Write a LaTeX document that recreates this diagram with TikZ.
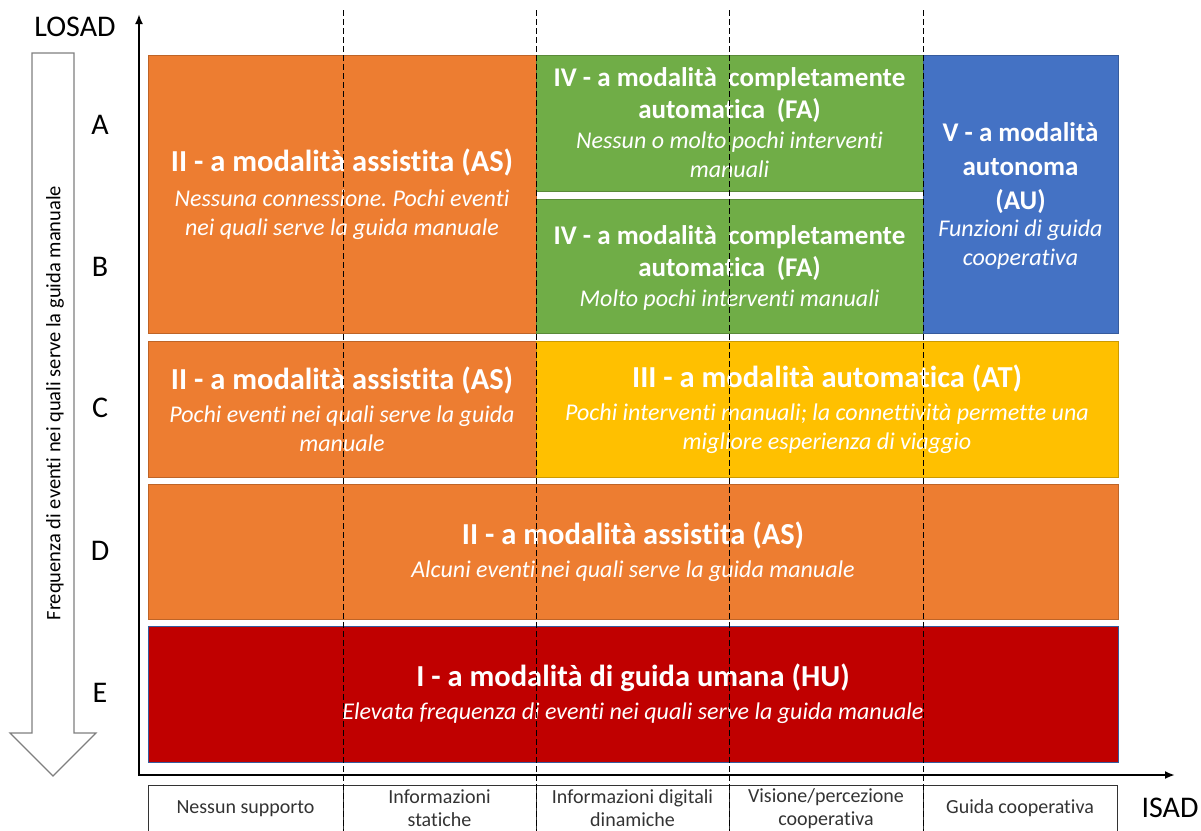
\documentclass[tikz,border=0pt]{standalone}
\usepackage{fontspec}
\setmainfont{Carlito}[Ligatures=NoCommon]
\usepackage{xcolor}
\usetikzlibrary{arrows.meta}
\usetikzlibrary{positioning}
\definecolor{arancio}{HTML}{ED7D31}
\definecolor{verde}{HTML}{70AD47}
\definecolor{blu}{HTML}{4472C4}
\definecolor{giallo}{HTML}{FFC000}
\definecolor{rosso}{HTML}{C00000}
\definecolor{grigio}{HTML}{7F7F7F}
\newcommand{\titolo}[1]{{\bfseries\fontsize{30.5}{33}\selectfont #1}}
\newcommand{\titoletto}[1]{{\bfseries\fontsize{27}{33}\selectfont #1}}
\newcommand{\nota}[1]{{\itshape #1}}
\frenchspacing

\tikzset{
  fascia/.style={fill=#1, draw=#1!80!black, line width=1pt, text=white, align=center,
    inner sep=0pt, outer sep=0pt, anchor=north west, font=\fontsize{24}{29}\selectfont},
  etichetta/.style={draw=black!80, line width=0.8pt, align=center, inner sep=0pt, outer sep=0pt,
    minimum height=47pt, text=black!80, font=\fontsize{20}{23}\selectfont},
  lettera/.style={font=\fontsize{30}{34}\selectfont},
  asse/.style={line width=2.2pt, {Latex[length=10pt,width=8pt]}-{Latex[length=10pt,width=8pt]}},
  guida/.style={line width=1pt, dash pattern=on 6pt off 3pt},
}

\begin{document}
\begin{tikzpicture}[x=1pt, y=-1pt]%
        \useasboundingbox (0,0) rectangle (1201,830);%
        % fasce colorate
        \node[fascia=arancio, minimum width=388pt, minimum height=278pt] (asab) at (148,55)
          {\titolo{II - a modalità assistita (AS)}\\[6pt] \nota{Nessuna connessione. Pochi eventi}\\ \nota{nei quali serve la guida manuale}};%
        \node[fascia=verde, minimum width=387pt, minimum height=136pt, text depth=-6pt] (fa1) at (536,55)
          {\titoletto{IV - a modalità\hspace{0.2em} completamente}\\[3pt] \titoletto{automatica\hspace{0.2em} (FA)}\\[1pt] \nota{Nessun o molto pochi interventi}\\ \nota{manuali}};%
        \node[fascia=verde, minimum width=387pt, minimum height=134pt, text depth=-7pt] (fa2) at (536,199)
          {\titoletto{IV - a modalità\hspace{0.2em} completamente}\\[3pt] \titoletto{automatica\hspace{0.2em} (FA)}\\[1pt] \nota{Molto pochi interventi manuali}};%
        \node[fascia=blu, minimum width=195pt, minimum height=278pt, text depth=-3pt] (au) at (923,55)
          {\titoletto{V - a modalità}\\[5pt] \titoletto{autonoma}\\[5pt] \titoletto{(AU)}\\[-2pt] \nota{Funzioni di guida}\\ \nota{cooperativa}};%
        \node[fascia=arancio, minimum width=388pt, minimum height=136pt] (asc) at (148,341)
          {\titolo{II - a modalità assistita (AS)}\\[4pt] \nota{Pochi eventi nei quali serve la guida}\\ \nota{manuale}};%
        \node[fascia=giallo, minimum width=582pt, minimum height=136pt] (at) at (536,341)
          {\titolo{III - a modalità automatica (AT)}\\[4pt] \nota{Pochi interventi manuali; la connettività permette una}\\ \nota{migliore esperienza di viaggio}};%
        \node[fascia=arancio, minimum width=970pt, minimum height=135pt] (asd) at (148,484)
          {\titolo{II - a modalità assistita (AS)}\\[4pt] \nota{Alcuni eventi nei quali serve la guida manuale}};%
        \node[fascia=rosso, draw=blu!80!black, minimum width=970pt, minimum height=136pt] (hu) at (148,626)
          {\titolo{I - a modalità di guida umana (HU)}\\[4pt] \nota{Elevata frequenza di eventi nei quali serve la guida manuale}};%
        % assi
        \coordinate (o) at (139,775);%
        \coordinate (ytop) at (139,14);%
        \coordinate (xend) at (1175,775);%
        \draw[asse] (ytop) -- (o) -- (xend);%
        \node[lettera] (losad) at (75,27) {LOSAD};%
        \node[lettera] (isad) at (1170,808) {ISAD};%
        \foreach \l/\y in {A/125, B/267, C/408, D/551, E/693}
          \node[lettera] (l\l) at (100,\y) {\l};%
        % freccia frequenza
        \draw[draw=grigio, line width=1.2pt, fill=white] (32,53) -- (74,53) -- (74,733) -- (96,733)
          -- (53,776) -- (10,733) -- (32,733) -- cycle;%
        \node[rotate=90, font=\fontsize{20.5}{24}\selectfont] (freq) at (55,403) {Frequenza di eventi nei quali serve la guida manuale};%
        % etichette ISAD
        \node[etichetta, anchor=north west, minimum width=195pt] (e1) at (148,785) {Nessun supporto};%
        \node[etichetta, minimum width=193pt, right=0pt of e1] (e2) {Informazioni\\statiche};%
        \node[etichetta, minimum width=193pt, right=0pt of e2] (e3) {Informazioni digitali\\dinamiche};%
        \node[etichetta, minimum width=194pt, right=0pt of e3] (e4) {Visione/percezione\\cooperativa};%
        \node[etichetta, minimum width=194pt, right=0pt of e4] (e5) {Guida cooperativa};%
        % linee tratteggiate
        \foreach \x [count=\i] in {343,536,729,923} {
          \coordinate (g\i a) at (\x,10);%
          \coordinate (g\i b) at (\x,835);%
          \draw[guida] (g\i a) -- (g\i b);%
        }
      \end{tikzpicture}
\end{document}
